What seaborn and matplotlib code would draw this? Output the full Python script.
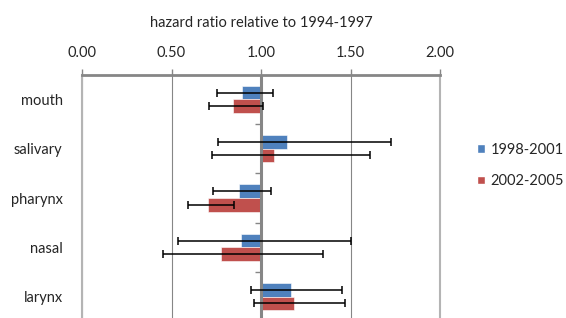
import numpy as np
import pandas as pd
import matplotlib
matplotlib.use('Agg')
import matplotlib.pyplot as plt
import seaborn as sns

# values
cancers = ['mouth', 'salivary', 'pharynx', 'nasal', 'larynx']
periods = ['1998-2001', '2002-2005']
hr_9801 = [0.894, 1.143, 0.875, 0.887, 1.166]
lo_9801 = [0.752, 0.758, 0.734, 0.535, 0.946]
hi_9801 = [1.066, 1.726, 1.055, 1.500, 1.454]
hr_0205 = [0.846, 1.074, 0.702, 0.778, 1.182]
lo_0205 = [0.711, 0.726, 0.592, 0.454, 0.960]
hi_0205 = [1.010, 1.609, 0.851, 1.345, 1.467]
colors = ['#4F81BD', '#C0504D']

df = pd.DataFrame({
    'cancer': cancers * 2,
    'period': [periods[0]] * 5 + [periods[1]] * 5,
    'hr': hr_9801 + hr_0205,
})

sns.set_style('white')
plt.rcParams['font.family'] = ['Lato', 'DejaVu Sans']
fs = 10.5

fig = plt.figure(figsize=(5.66, 3.18), dpi=100)
ax = fig.add_axes([0.1449, -0.0105, 0.6325, 0.7755])

sns.barplot(data=df, x='hr', y='cancer', hue='period', orient='h',
            palette=colors, width=0.55, saturation=1, errorbar=None, ax=ax)

# bars start at the reference value 1.0
los = [lo_9801, lo_0205]
his = [hi_9801, hi_0205]
hrs = [hr_9801, hr_0205]
bar_conts = list(ax.containers)
for k, cont in enumerate(bar_conts):
    ys = []
    for bar in cont:
        w = bar.get_width()
        bar.set_x(1.0)
        bar.set_width(w - 1.0)
        bar.set_edgecolor('white')
        bar.set_linewidth(0.4)
        ys.append(bar.get_y() + bar.get_height() / 2)
    hr = np.array(hrs[k])
    ax.errorbar(hr, ys, xerr=[hr - np.array(los[k]), np.array(his[k]) - hr],
                fmt='none', ecolor='black', elinewidth=1.1, capsize=3, capthick=1.1,
                zorder=5)

ax.set_xlim(0, 2)
ax.set_ylim(4.5, -0.5)
ax.set_xticks([0, 0.5, 1.0, 1.5, 2.0])
ax.set_xticklabels(['%.2f' % v for v in [0, 0.5, 1.0, 1.5, 2.0]], fontsize=fs)
ax.xaxis.tick_top()
ax.xaxis.set_label_position('top')
ax.set_xlabel('hazard ratio relative to 1994-1997', fontsize=fs, labelpad=14)
ax.set_ylabel('')
ax.tick_params(axis='x', direction='out', length=4, width=1, color='#868686', pad=6.5)
ax.tick_params(axis='y', length=0, pad=14, labelsize=fs)

ax.xaxis.grid(True, color='#868686', lw=0.8)
ax.set_axisbelow(True)
ax.spines['top'].set_color('#868686')
ax.spines['top'].set_linewidth(2)
ax.spines['bottom'].set_visible(False)
for s in ['left', 'right']:
    ax.spines[s].set_color('#B4B4B4')
    ax.spines[s].set_linewidth(1.5)

# category axis crossing at 1.0
ax.axvline(1.0, color='#868686', lw=2.2, zorder=4)
ax.plot([1.0] * 4, [0.5, 1.5, 2.5, 3.5], ls='none', marker=0, ms=4,
        mew=1, color='#868686', zorder=4)

handles, labels = ax.get_legend_handles_labels()
ax.legend(handles, labels, loc='center left', bbox_to_anchor=(0.843, 0.48),
          bbox_transform=fig.transFigure, frameon=False, fontsize=fs,
          borderpad=0, borderaxespad=0,
          handlelength=0.55, handleheight=0.55, handletextpad=0.35, labelspacing=1.2)

fig.savefig('out.png', dpi=100)
